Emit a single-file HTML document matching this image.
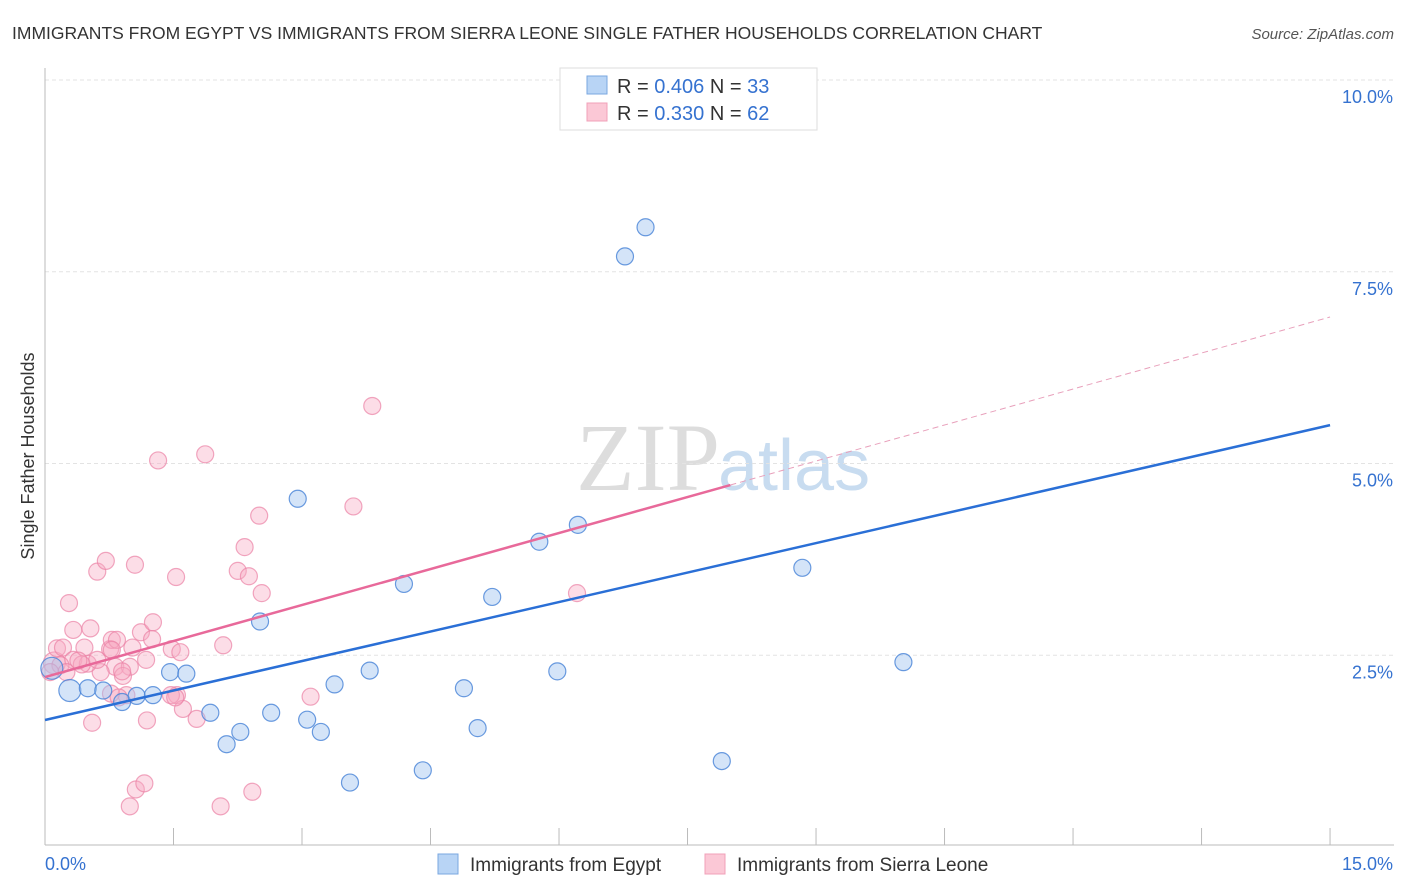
<!DOCTYPE html>
<html><head><meta charset="utf-8"><style>
body{margin:0;background:#fff;font-family:"Liberation Sans",sans-serif}
svg{display:block}
</style></head><body>
<svg id="c" width="1406" height="892">
<text x="12" y="39" font-size="17.5" fill="#333">IMMIGRANTS FROM EGYPT VS IMMIGRANTS FROM SIERRA LEONE SINGLE FATHER HOUSEHOLDS CORRELATION CHART</text>
<text x="1394" y="39" font-size="15" fill="#555" font-style="italic" text-anchor="end">Source: ZipAtlas.com</text>
<text x="720" y="490" font-size="96" fill="#ddd" font-family="Liberation Serif,serif" text-anchor="end">ZIP</text>
<text x="718" y="490" font-size="72" fill="#c8dcf0">atlas</text>
<g id="grid"></g><g id="axes"></g><g id="pts"></g><g id="lines"></g>
<text transform="translate(34,456) rotate(-90)" font-size="18" fill="#333" text-anchor="middle">Single Father Households</text>
<g>
<rect x="560" y="68" width="257" height="62" fill="#fff" stroke="#ddd"/>
<rect x="587" y="76" width="20" height="18" fill="#b8d4f5" stroke="#7aa7e0"/>
<rect x="587" y="103" width="20" height="18" fill="#fbc8d6" stroke="#f0a0b8"/>
<text x="617" y="93" font-size="20" fill="#333">R = <tspan fill="#3572d0">0.406</tspan>   N = <tspan fill="#3572d0">33</tspan></text>
<text x="617" y="120" font-size="20" fill="#333">R = <tspan fill="#3572d0">0.330</tspan>   N = <tspan fill="#3572d0">62</tspan></text>
</g>
<g>
<rect x="438" y="854" width="20" height="20" fill="#b8d4f5" stroke="#7aa7e0"/>
<text x="470" y="871" font-size="19" fill="#333">Immigrants from Egypt</text>
<rect x="705" y="854" width="20" height="20" fill="#fbc8d6" stroke="#f0a0b8"/>
<text x="737" y="871" font-size="19" fill="#333">Immigrants from Sierra Leone</text>
</g>
</svg>
<script>
const yTicks=[2.5,5.0,7.5,10.0];
const xTickCount=10;
const xLabels=["0.0%","15.0%"];
const egyptX=[0.08,0.29,0.5,0.68,0.9,1.07,1.26,1.46,1.65,1.93,2.12,2.28,2.51,2.64,2.95,3.06,3.22,3.38,3.56,3.79,4.19,4.41,4.89,5.05,5.22,5.77,5.98,6.22,6.77,7.01,7.9,8.84,10.02];
const egyptY=[2.33,2.04,2.07,2.04,1.89,1.97,1.98,2.28,2.26,1.75,1.34,1.5,2.94,1.75,4.54,1.66,1.5,2.12,0.84,2.3,3.43,1.0,2.07,1.55,3.26,3.98,2.29,4.2,7.7,8.08,1.12,3.64,2.41];
const leoneX=[0.11,0.14,0.21,0.28,0.33,0.33,0.53,0.61,0.71,0.76,0.78,0.82,0.84,0.95,0.99,1.05,1.12,1.18,1.26,1.32,1.53,1.54,1.61,1.77,1.87,2.08,2.25,2.33,2.38,2.5,2.53,3.82,3.6,6.21,3.1,1.19,0.55,0.99,1.06,1.16,2.05,2.42,1.48,1.58,0.91,0.65,0.5,0.43,0.18,0.25,0.06,0.77,0.86,1.47,1.52,1.02,1.25,0.61,0.78,0.46,0.9,0.39];
const leoneY=[2.4,2.59,2.6,3.18,2.83,2.44,2.85,3.59,3.73,2.58,2.7,2.35,2.7,1.98,2.35,3.68,2.8,2.44,2.93,5.04,3.52,1.98,1.8,1.67,5.12,2.63,3.6,3.91,3.53,4.32,3.31,5.75,4.44,3.31,1.96,1.65,1.62,0.53,0.75,0.83,0.53,0.72,2.58,2.54,2.23,2.28,2.39,2.38,2.37,2.28,2.28,2.0,1.95,1.98,1.95,2.6,2.71,2.44,2.57,2.6,2.29,2.43];
const egyptTrend=[1.656,5.50];
const leoneTrend=[2.216,6.91];
const leoneSolidEnd=8.0;
const X=v=>45+v*85.67, Y=v=>847-v*76.7;
const NS="http://www.w3.org/2000/svg";
function mk(t,a,p){const e=document.createElementNS(NS,t);for(const k in a)e.setAttribute(k,a[k]);document.getElementById(p).appendChild(e);return e;}
mk('line',{x1:45,y1:80,x2:1394,y2:80,stroke:'#ddd','stroke-dasharray':'4,3'},'grid');
yTicks.forEach(v=>{const l=mk('line',{x1:45,y1:Y(v),x2:1394,y2:Y(v),stroke:'#e3e3e3','stroke-dasharray':'4,3'},'grid');


const t=mk('text',{x:1393,y:Y(v)+23,'font-size':18,fill:'#3572d0','text-anchor':'end'},'grid');t.textContent=v.toFixed(1)+'%';

});
mk('line',{x1:45,y1:68,x2:45,y2:845,stroke:'#bbb'},'axes');
mk('line',{x1:45,y1:845,x2:1394,y2:845,stroke:'#bbb'},'axes');
for(let i=1;i<=xTickCount;i++){const x=X(i*15/xTickCount);mk('line',{x1:x,y1:828,x2:x,y2:845,stroke:'#bbb'},'axes');}
const a=mk('text',{x:45,y:870,'font-size':18,fill:'#3572d0'},'axes');a.textContent=xLabels[0];


const b=mk('text',{x:1393,y:870,'font-size':18,fill:'#3572d0','text-anchor':'end'},'axes');b.textContent=xLabels[1];


leoneX.forEach((v,i)=>{const c=mk('circle',{cx:X(v),cy:Y(leoneY[i]),r:i==0?11:8.5,fill:'rgba(248,170,195,0.4)',stroke:'rgba(235,130,165,0.7)','stroke-width':1.2},'pts');

});
egyptX.forEach((v,i)=>{const c=mk('circle',{cx:X(v),cy:Y(egyptY[i]),r:i<2?11:8.5,fill:'rgba(160,195,240,0.45)',stroke:'rgba(70,130,215,0.8)','stroke-width':1.2},'pts');

});
const ly=(t,x)=>t[0]+(t[1]-t[0])*x/15;
const e1=mk('line',{x1:X(0),y1:Y(egyptTrend[0]),x2:X(15),y2:Y(egyptTrend[1]),stroke:'#2a6fd6','stroke-width':2.5},'lines');


const p1=mk('line',{x1:X(0),y1:Y(leoneTrend[0]),x2:X(leoneSolidEnd),y2:Y(ly(leoneTrend,leoneSolidEnd)),stroke:'#e8699a','stroke-width':2.5},'lines');


const p2=mk('line',{x1:X(leoneSolidEnd),y1:Y(ly(leoneTrend,leoneSolidEnd)),x2:X(15),y2:Y(leoneTrend[1]),stroke:'#e8a0bb','stroke-width':1,'stroke-dasharray':'6,4'},'lines');


</script>
</body></html>
